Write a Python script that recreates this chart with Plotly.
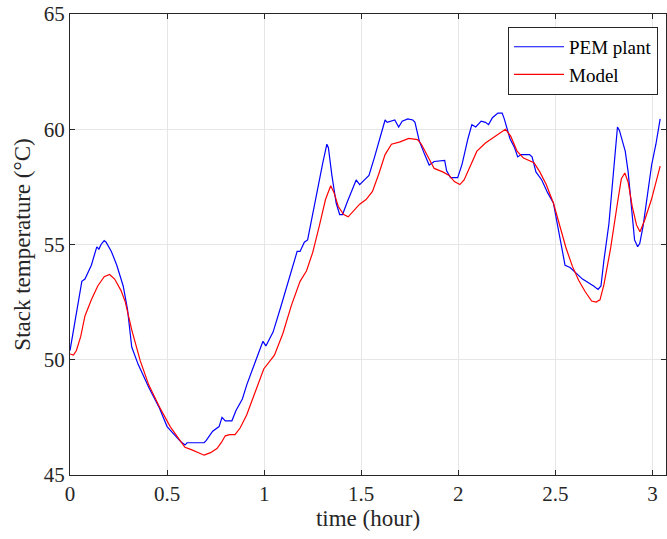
import plotly.graph_objects as go

# PEM plant (measured)
plant_t = [0, 0.028, 0.061, 0.077, 0.11, 0.138, 0.149, 0.16, 0.176, 0.186, 0.213, 0.241, 0.274, 0.296,
           0.318, 0.351, 0.406, 0.461, 0.5, 0.537, 0.57, 0.592, 0.603, 0.691, 0.702, 0.735, 0.768,
           0.783, 0.8, 0.834, 0.855, 0.888, 0.91, 0.954, 0.994, 1.009, 1.031, 1.046, 1.086, 1.13,
           1.17, 1.185, 1.207, 1.224, 1.24, 1.272, 1.30, 1.323, 1.331, 1.349, 1.371, 1.389, 1.404,
           1.426, 1.455, 1.474, 1.492, 1.514, 1.54, 1.569, 1.601, 1.623, 1.634, 1.656, 1.673, 1.693,
           1.711, 1.74, 1.766, 1.777, 1.799, 1.827, 1.85, 1.876, 1.93, 1.94, 1.96, 1.997, 2.02, 2.05,
           2.07, 2.09, 2.118, 2.14, 2.156, 2.176, 2.204, 2.226, 2.237, 2.266, 2.29, 2.306, 2.324,
           2.367, 2.38, 2.40, 2.43, 2.46, 2.49, 2.52, 2.55, 2.576, 2.64, 2.697, 2.72, 2.735, 2.75,
           2.776, 2.8, 2.82, 2.83, 2.84, 2.86, 2.875, 2.89, 2.908, 2.924, 2.935, 2.952, 2.974, 2.996,
           3.018, 3.04]
plant_T = [50.4, 51.75, 53.4, 53.5, 54.1, 54.9, 54.8, 55.0, 55.17, 55.1, 54.7, 54.1, 53.2, 52.2,
           50.55, 49.8, 48.8, 47.9, 47.1, 46.75, 46.45, 46.3, 46.4, 46.4, 46.5, 46.9, 47.1,
           47.5, 47.35, 47.35, 47.8, 48.3, 48.9, 49.9, 50.8, 50.6, 51.0, 51.2, 52.3, 53.5,
           54.7, 54.7, 55.1, 55.2, 55.9, 57.25, 58.45, 59.35, 59.2, 58.0, 56.8, 56.3, 56.3,
           56.8, 57.4, 57.8, 57.6, 57.8, 58.0, 58.8, 59.8, 60.4, 60.3, 60.35, 60.4, 60.1,
           60.35, 60.45, 60.4, 60.3, 59.5, 58.9, 58.45, 58.6, 58.65, 58.2, 57.9, 57.9, 58.5, 59.6,
           60.2, 60.1, 60.35, 60.3, 60.2, 60.5, 60.7, 60.7, 60.45, 59.6, 59.2, 58.8, 58.9,
           58.9, 58.8, 58.15, 57.8, 57.25, 56.8, 55.45, 54.1, 54.0, 53.5, 53.2, 53.05, 53.2, 54.3,
           55.9, 58.15, 60.1, 59.95, 59.65, 59.05, 58.15, 56.65, 55.2, 54.9, 55.05, 55.8, 57.1, 58.45,
           59.35, 60.45]

# Model
model_t = [0, 0.018, 0.033, 0.055, 0.077, 0.11, 0.143, 0.176, 0.204, 0.23, 0.263, 0.285, 0.318,
           0.362, 0.406, 0.461, 0.516, 0.56, 0.592, 0.625, 0.658, 0.691, 0.724, 0.757, 0.779, 0.8,
           0.823, 0.85, 0.877, 0.91, 0.954, 0.998, 1.053, 1.097, 1.14, 1.185, 1.218, 1.25, 1.284,
           1.316, 1.343, 1.36, 1.382, 1.41, 1.433, 1.459, 1.492, 1.525, 1.558, 1.59, 1.623, 1.656,
           1.7, 1.745, 1.79, 1.81, 1.843, 1.876, 1.92, 1.953, 1.98, 2.008, 2.03, 2.063, 2.096, 2.14,
           2.184, 2.216, 2.243, 2.27, 2.303, 2.336, 2.39, 2.42, 2.453, 2.49, 2.52, 2.555, 2.588,
           2.62, 2.654, 2.687, 2.71, 2.73, 2.75, 2.785, 2.82, 2.84, 2.858, 2.875, 2.896, 2.918,
           2.936, 2.96, 2.995, 3.04]
model_T = [50.25, 50.2, 50.4, 51.0, 51.9, 52.6, 53.2, 53.6, 53.7, 53.5, 53.0, 52.5, 51.3,
           49.95, 48.9, 47.95, 47.1, 46.6, 46.2, 46.1, 45.97, 45.86, 45.97, 46.15, 46.4, 46.7,
           46.75, 46.75, 47.05, 47.6, 48.6, 49.6, 50.2, 51.15, 52.35, 53.4, 53.85, 54.65, 55.8,
           56.95, 57.55, 57.25, 56.65, 56.3, 56.2, 56.45, 56.75, 56.95, 57.3, 58.05, 58.9, 59.35,
           59.45, 59.6, 59.55, 59.35, 58.8, 58.3, 58.15, 58.0, 57.73, 57.6, 57.8, 58.45, 59.05, 59.4,
           59.65, 59.85, 60.0, 59.7, 59.05, 58.75, 58.55, 58.15, 57.6, 56.8, 55.9, 54.85, 54.05,
           53.45, 52.95, 52.55, 52.5, 52.6, 53.25, 54.85, 56.8, 57.85, 58.1, 57.7, 56.65, 55.85,
           55.55, 56.05, 56.95, 58.4]

x_ticks = [0, 0.5, 1, 1.5, 2, 2.5, 3]
x_ticklabels = ["0", "0.5", "1", "1.5", "2", "2.5", "3"]
y_ticks = [45, 50, 55, 60, 65]

font_family = "Liberation Serif"

fig = go.Figure()
fig.add_trace(go.Scatter(x=plant_t, y=plant_T, mode="lines", name="PEM plant",
                         line=dict(color="#0000FF", width=1.2)))
fig.add_trace(go.Scatter(x=model_t, y=model_T, mode="lines", name="Model",
                         line=dict(color="#FF0000", width=1.2)))

axis_common = dict(
    showline=True, linecolor="#262626", linewidth=1, mirror="ticks",
    ticks="inside", ticklen=5, tickcolor="#262626", tickwidth=1,
    showgrid=True, gridcolor="#E6E6E6", gridwidth=1, zeroline=False,
    automargin=False, ticklabeloverflow="allow",
    tickfont=dict(family=font_family, size=21, color="#262626"),
)

fig.update_layout(
    width=667, height=539,
    margin=dict(l=70, r=1, t=14, b=64),
    paper_bgcolor="white", plot_bgcolor="white",
    font=dict(family=font_family, color="#262626"),
    showlegend=True,
    legend=dict(x=0.9866, y=0.972, xanchor="right", yanchor="top",
                bgcolor="white", bordercolor="#262626", borderwidth=1,
                font=dict(family=font_family, size=19, color="black"),
                tracegroupgap=0, itemwidth=50),
    xaxis=dict(range=[0, 3.07], tickvals=x_ticks, ticktext=x_ticklabels,
               title=dict(text="time (hour)", font=dict(family=font_family, size=23), standoff=4),
               **axis_common),
    yaxis=dict(range=[45, 65], tickvals=y_ticks,
               title=dict(text="Stack temperature (°C)", font=dict(family=font_family, size=23), standoff=6),
               **axis_common),
)

# remove the page's default body margin so the figure sits at the window origin
fig.write_html("out.html", config={"displayModeBar": False},
               post_script="document.body.style.margin='0';document.body.style.overflow='hidden';")
